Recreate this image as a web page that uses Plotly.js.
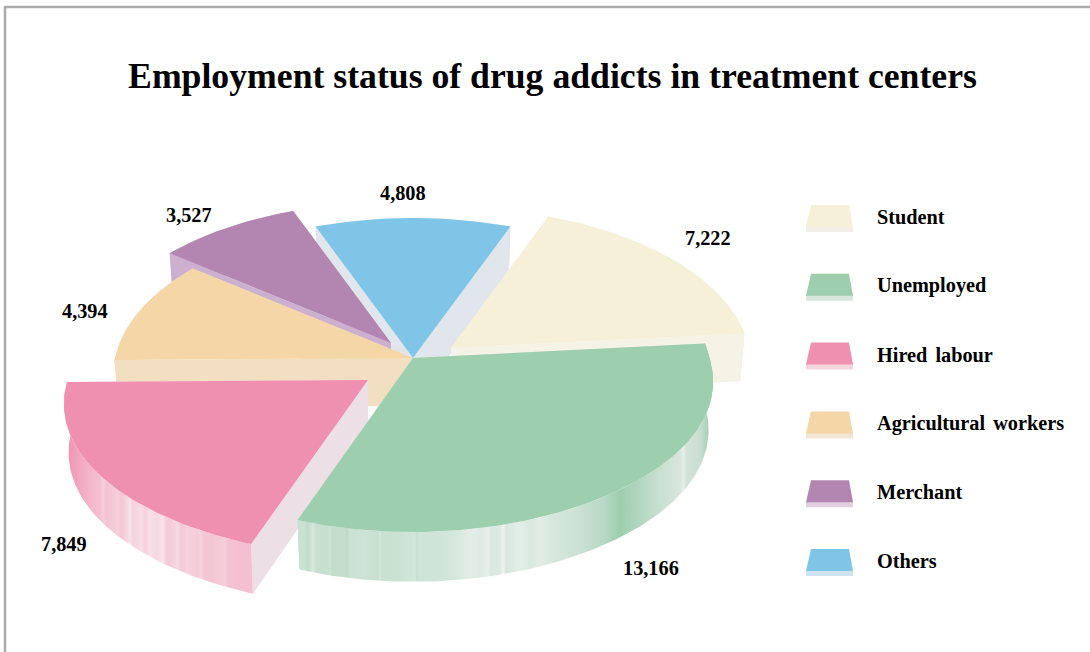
<!DOCTYPE html>
<html>
<head>
<meta charset="utf-8">
<script src="https://cdn.plot.ly/plotly-3.0.1.min.js"></script>
<style>
html,body{margin:0;padding:0;background:#fff;overflow:hidden}
#chart{width:1090px;height:652px}
.annotation-text{word-spacing:3px}
</style>
</head>
<body>
<div id="chart"></div>
<script>
// ---- data ----
const chartTitle = "Employment status of drug addicts in treatment centers";
const categories = ["Student","Unemployed","Hired labour","Agricultural workers","Merchant","Others"];
const values = [7222,13166,7849,4394,3527,4808];

// ---- styles ----
const topColors  = ["#F6F0D9","#9DCEAE","#F090B0","#F5D6A6","#B386B2","#7FC5E8"];
const faceColors = ["#F5F2E6","#C9E0D1","#ECE0E6","#F2DFC2","#CDB0CF","#E0E6EC"];
const keyColors  = ["#F1EFE6","#D8E7DE","#F3D5DE","#F3E6D3","#E0CFDF","#CFE4F0"];

// ---- geometry of the drawing ----
const cx = 413, cy = 358, rx = 298, ryBase = 155.5, persp = 0.111, depth = 48;
const pulls = [[38,-10],[0,0],[-45,22],[0,0],[-22,-15],[0,0]];
const sliceScale = [1,0.995,1.008,1,1.005,1];
const drawOrder = [5,0,4,3,2,1];
const labelAnchors = [[708,238],[651,568],[64,544],[85,311],[189,215],[403,193]];
const keyTop = 205, keyStep = 68.8;

const greenWall = [[297,"#C9E0D1"],[305,"#CBE2D3"],[307,"#BFDCCA"],[310,"#C9E0D1"],[313,"#D8E9DF"],[316,"#C9E0D1"],[328,"#C6DFCF"],[330,"#D0E5D8"],[332,"#C3DDCC"],[345,"#C6DECE"],[347,"#BCDAC7"],[349,"#CBE1D3"],[365,"#CDE3D5"],[378,"#C7E0D0"],[380,"#D4E7DB"],[382,"#C9E1D1"],[400,"#CBE2D3"],[415,"#D2E6DA"],[417,"#C5DFCE"],[419,"#CFE4D8"],[440,"#CFE4D8"],[455,"#D6E8DD"],[470,"#E4EDE8"],[482,"#DCEAE2"],[488,"#E6EFEA"],[491,"#D8E8DF"],[500,"#DDEAE3"],[503,"#F0F3F1"],[506,"#D8E8DF"],[520,"#E4EEE8"],[530,"#DAE9E0"],[540,"#E2EDE6"],[555,"#D5E6DC"],[573,"#CEE3D7"],[603,"#B8D9C5"],[620,"#9DCEAE"],[637,"#B0D5BE"],[657,"#C5DFCE"],[681,"#D8E6DE"],[683,"#E8F0EB"],[686,"#D4E4DA"],[700,"#C8DDD0"],[708,"#A8D2B8"],[713,"#9DCEAE"]];
const pinkWall = [[64,"#F090B0"],[73,"#F09DB8"],[87,"#F3B2C7"],[100,"#F4C0D1"],[103,"#F6CEDB"],[107,"#F4C2D2"],[118,"#F6D0DC"],[121,"#F3C6D4"],[127,"#F6D5E0"],[130,"#F8E4EA"],[133,"#F5D2DE"],[142,"#F7DCE5"],[145,"#F4CFDB"],[150,"#F8E0E8"],[157,"#F6D8E2"],[163,"#F9E4EB"],[166,"#F4CEDA"],[170,"#F3CBD8"],[178,"#F7D9E3"],[181,"#F2C8D6"],[187,"#F6D3DE"],[198,"#F5CAD8"],[201,"#F7D5E0"],[204,"#F3C6D4"],[213,"#F4C6D4"],[225,"#F6CDDA"],[228,"#F3C2D2"],[250,"#F4BFD1"]];
const wallGradients = {1:greenWall, 2:pinkWall};

const total = values.reduce((a,b)=>a+b,0);
const startAngle = 360*values[5]/total/2;

function rimTop(deg, k){
  const t = deg*Math.PI/180, u = Math.sin(t), v = Math.cos(t), s = 1/(1+persp*v);
  const bulge = v<0 ? 1+0.045*u*u*Math.abs(v) : 1;
  return [rx*u*s*bulge*k, -ryBase*v*s*k];
}
function rimBottom(deg, k){
  const p = rimTop(deg, k);
  return [p[0]*0.985, p[1]*1.01+depth];
}
function poly(points, pull, fillStyle, name){
  const tr = {
    type:"scatter", mode:"lines", name:name,
    x:points.map(p=>cx+pull[0]+p[0]),
    y:points.map(p=>cy+pull[1]+p[1]),
    fill:"toself", line:{width:0,color:"rgba(0,0,0,0)"},
    hoverinfo:"skip", showlegend:false
  };
  return Object.assign(tr, fillStyle);
}
function arc(a,b,fn,k){
  const pts=[]; const n=Math.max(2,Math.ceil(Math.abs(b-a)));
  for(let i=0;i<=n;i++) pts.push(fn(a+(b-a)*i/n,k));
  return pts;
}

// slice spans follow from the values
const spans=[]; let acc=startAngle;
values.forEach(v=>{const d=360*v/total; spans.push([acc,acc+d]); acc+=d;});

const traces=[];
drawOrder.forEach(i=>{
  const [a,b]=spans[i], pull=pulls[i], name=categories[i], k=sliceScale[i];
  const solid={fillcolor:faceColors[i]};
  [a,b].forEach(ang=>{
    traces.push(poly([[0,0],rimTop(ang,k),rimBottom(ang,k),[0,depth],[0,0]],pull,solid,name));
  });
  let wallStyle=solid;
  if(wallGradients[i]){
    const g=wallGradients[i], lo=g[0][0], hi=g[g.length-1][0];
    wallStyle={fillgradient:{type:"horizontal",start:lo,stop:hi,
      colorscale:g.map(s=>[(s[0]-lo)/(hi-lo),s[1]])}};
  }
  const wall=arc(a,b,rimTop,k).concat(arc(b,a,rimBottom,k));
  wall.push(wall[0]);
  traces.push(poly(wall,pull,wallStyle,name));
  const top=[[0,0]].concat(arc(a,b,rimTop,k)); top.push([0,0]);
  traces.push(poly(top,pull,{fillcolor:topColors[i]},name));
});

// legend keys
categories.forEach((c,i)=>{
  const y=keyTop+i*keyStep;
  const base={type:"scatter",mode:"lines",fill:"toself",line:{width:0,color:"rgba(0,0,0,0)"},hoverinfo:"skip",showlegend:false,name:c};
  traces.push(Object.assign({},base,{x:[806,853,853,806,806],y:[y+21,y+21,y+27,y+27,y+21],fillcolor:keyColors[i]}));
  traces.push(Object.assign({},base,{x:[811,849,853,806,811],y:[y,y,y+22,y+22,y],fillcolor:topColors[i]}));
});

const serif='"Liberation Serif","Times New Roman",serif';
const annotations=[];
values.forEach((v,i)=>annotations.push({
  x:labelAnchors[i][0],y:labelAnchors[i][1],xref:"x",yref:"y",
  text:v.toLocaleString("en-US"),showarrow:false,xanchor:"center",yanchor:"middle",
  font:{family:serif,size:20.3,color:"#000",weight:700}
}));
categories.forEach((c,i)=>annotations.push({
  x:875,y:keyTop+12+i*keyStep,xref:"x",yref:"y",
  text:c,showarrow:false,xanchor:"left",yanchor:"middle",
  font:{family:serif,size:20.3,color:"#000",weight:700}
}));

const layout={
  width:1090,height:652,margin:{l:0,r:0,t:0,b:0},
  paper_bgcolor:"#fff",plot_bgcolor:"#fff",showlegend:false,
  title:{text:chartTitle,x:552.5/1090,xanchor:"center",y:1-76/652,yanchor:"middle",
    font:{family:serif,size:35.7,color:"#000",weight:700}},
  xaxis:{range:[0,1090],visible:false,fixedrange:true},
  yaxis:{range:[652,0],visible:false,fixedrange:true},
  annotations:annotations,
  shapes:[
    {type:"line",xref:"x",yref:"y",x0:5,x1:1090,y0:7,y1:7,line:{color:"#ABABAB",width:2.5},layer:"below"},
    {type:"line",xref:"x",yref:"y",x0:5,x1:5,y0:6,y1:652,line:{color:"#ABABAB",width:2.5},layer:"below"}
  ]
};
Plotly.newPlot("chart",traces,layout,{displayModeBar:false,staticPlot:true});
</script>
</body>
</html>
